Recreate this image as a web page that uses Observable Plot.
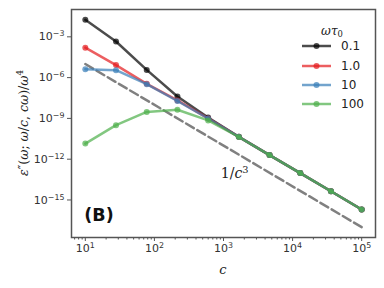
<!DOCTYPE html>
<html><head><meta charset="utf-8">
<script src="https://cdn.jsdelivr.net/npm/d3@7"></script>
<script src="https://cdn.jsdelivr.net/npm/@observablehq/plot@0.6"></script>
<style>
body{margin:0;background:#fff;}
#chart{position:relative;width:384px;height:288px;}
</style></head><body><div id="chart"></div>
<script>
// ---- data ----
const cValues = [10, 27.83, 77.43, 215.4, 599.5, 1668, 4642, 12915, 35938, 100000];
const seriesLabels = ["0.1", "1.0", "10", "100"];
const seriesColors = ["#000000", "#e41a1c", "#377eb8", "#4daf4a"];
const y_0_1 = [1.78e-2, 4.5e-4, 3.7e-6, 4.1e-8, 1.15e-9, 4.4e-11, 2.0e-12, 9.5e-14, 4.4e-15, 2.0e-16];
const y_1_0 = [1.6e-4, 8.3e-6, 3.5e-7, 2.1e-8, 1.0e-9, 4.4e-11, 2.0e-12, 9.5e-14, 4.4e-15, 2.0e-16];
const y_10  = [4.2e-6, 3.5e-6, 3.3e-7, 1.9e-8, 9.8e-10, 4.4e-11, 2.0e-12, 9.5e-14, 4.4e-15, 2.0e-16];
const y_100 = [1.4e-11, 3.2e-10, 3.0e-9, 4.3e-9, 7.1e-10, 4.3e-11, 2.0e-12, 9.5e-14, 4.4e-15, 2.0e-16];
const refC = [10, 100000];
const refY = [1e-5, 1e-17];
const xTicks = [1e1, 1e2, 1e3, 1e4, 1e5];
const yTicks = [1e-3, 1e-6, 1e-9, 1e-12, 1e-15];
const annoText = "1/c3";
const annoPos = {c: 1450, v: 8.7e-14};

const seriesValues = [y_0_1, y_1_0, y_10, y_100];
const seriesRows = seriesValues.map(vals => vals.map((v, i) => ({c: cValues[i], v})));
const refRows = refC.map((c, i) => ({c, v: refY[i]}));
const xMinor = [];
for (let e = 0; e <= 5; e++) for (let m = 2; m <= 9; m++) { const t = m * 10 ** e; if (t > 10 ** 0.8 && t < 10 ** 5.2) xMinor.push(t); }

const fmt = t => "10^" + Math.round(Math.log10(t));

const marks = [
  Plot.line(refRows, {x: "c", y: "v", stroke: "#808080", strokeWidth: 2.5, strokeDasharray: "9,4"})
];
seriesRows.forEach((rows, k) => {
  marks.push(Plot.line(rows, {x: "c", y: "v", stroke: seriesColors[k], strokeWidth: 2.5, strokeOpacity: 0.7}));
  marks.push(Plot.dot(rows, {x: "c", y: "v", fill: seriesColors[k], fillOpacity: 0.7, r: 3}));
});
marks.push(
  Plot.axisX({ticks: xMinor, tickFormat: () => "", tickSize: 2.5, stroke: "#555", label: null}),
  Plot.axisX({ticks: xTicks, tickFormat: fmt, tickSize: 4, tickPadding: 3, stroke: "#555", label: null}),
  Plot.axisY({ticks: yTicks, tickFormat: fmt, tickSize: 4, tickPadding: 3, stroke: "#555", label: null}),
  Plot.frame({stroke: "#555", strokeWidth: 1.5}),
  Plot.text([annoPos], {x: "c", y: "v", text: () => annoText, fontSize: 14, fill: "#222", fontFamily: "DejaVu Serif"})
);

const plot = Plot.plot({
  width: 384, height: 288,
  marginLeft: 71, marginRight: 9, marginTop: 9, marginBottom: 51,
  style: {fontFamily: "DejaVu Sans", fontSize: "11px", color: "#333", background: "#fff"},
  x: {type: "log", domain: [10 ** 0.8, 10 ** 5.2]},
  y: {type: "log", domain: [10 ** -17.76, 10 ** -0.99]},
  marks
});
document.getElementById("chart").appendChild(plot);

const svg = d3.select(plot);
// superscript tick labels
svg.selectAll("text").each(function() {
  const t = this.textContent;
  const m = /^10\^(-?\d+)$/.exec(t);
  if (m) {
    const s = d3.select(this); s.text(null);
    s.append("tspan").text("10");
    s.append("tspan").attr("dy", "-0.5em").attr("font-size", "0.72em").text(m[1].replace("-", "\u2212"));
  } else if (t === annoText) {
    const s = d3.select(this); s.text(null);
    s.append("tspan").text("1/");
    s.append("tspan").attr("font-style", "italic").text("c");
    s.append("tspan").attr("dy", "-0.5em").attr("font-size", "0.7em").text("3");
  }
});

const g = svg.append("g").attr("text-anchor", "start");
// y label
const yl = g.append("text").attr("transform", "translate(24,123) rotate(-90)")
  .attr("text-anchor", "middle").attr("dominant-baseline", "middle")
  .attr("font-family", "DejaVu Serif").attr("font-size", 12.5).attr("fill", "#222");
yl.append("tspan").attr("font-style", "italic").text("ε");
yl.append("tspan").text("\u2033(");
yl.append("tspan").attr("font-style", "italic").text("ω");
yl.append("tspan").text("; ");
yl.append("tspan").attr("font-style", "italic").text("ω");
yl.append("tspan").text("/");
yl.append("tspan").attr("font-style", "italic").text("c");
yl.append("tspan").text(", ");
yl.append("tspan").attr("font-style", "italic").text("cω");
yl.append("tspan").text(")/");
yl.append("tspan").attr("font-style", "italic").text("ω");
yl.append("tspan").attr("dy", "-0.5em").attr("font-size", "0.7em").text("4");
// x label
g.append("text").attr("x", 223).attr("y", 270).attr("text-anchor", "middle").attr("dominant-baseline", "middle")
  .attr("font-family", "DejaVu Serif").attr("font-style", "italic").attr("font-size", 13).attr("fill", "#222").text("c");
// (B)
g.append("text").attr("x", 99).attr("y", 216).attr("text-anchor", "middle").attr("dominant-baseline", "middle")
  .attr("font-family", "DejaVu Sans").attr("font-weight", "bold").attr("font-size", 17.5).attr("fill", "#111").text("(B)");
// legend
const lt = g.append("text").attr("x", 332).attr("y", 31).attr("text-anchor", "middle").attr("dominant-baseline", "middle")
  .attr("font-family", "DejaVu Serif").attr("font-size", 12).attr("fill", "#222");
lt.append("tspan").attr("font-style", "italic").text("ωτ");
lt.append("tspan").attr("dy", "0.35em").attr("font-size", "0.7em").text("0");
const rowsY = [46, 66, 85, 104];
seriesLabels.forEach((lab, k) => {
  const y = rowsY[k];
  g.append("line").attr("x1", 302).attr("x2", 331).attr("y1", y).attr("y2", y)
    .attr("stroke", seriesColors[k]).attr("stroke-opacity", 0.7).attr("stroke-width", 2.5);
  g.append("circle").attr("cx", 316.5).attr("cy", y).attr("r", 3).attr("fill", seriesColors[k]).attr("fill-opacity", 0.7);
  g.append("text").attr("x", 341).attr("y", y).attr("text-anchor", "start").attr("dominant-baseline", "middle")
    .attr("font-family", "DejaVu Sans").attr("font-size", 12).attr("fill", "#222").text(lab);
});
</script></body></html>
